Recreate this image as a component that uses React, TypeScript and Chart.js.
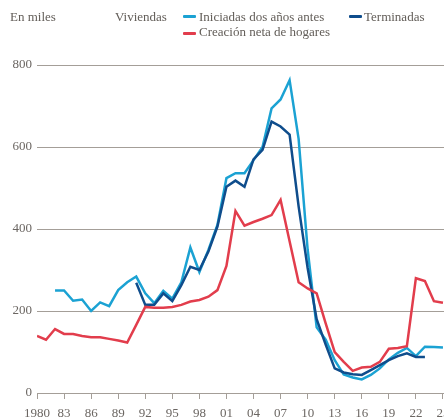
import React, { useEffect, useRef } from "react";
import { Chart, registerables } from "chart.js";

Chart.register(...registerables);

const years = [
  1980, 1981, 1982, 1983, 1984, 1985, 1986, 1987, 1988, 1989,
  1990, 1991, 1992, 1993, 1994, 1995, 1996, 1997, 1998, 1999,
  2000, 2001, 2002, 2003, 2004, 2005, 2006, 2007, 2008, 2009,
  2010, 2011, 2012, 2013, 2014, 2015, 2016, 2017, 2018, 2019,
  2020, 2021, 2022, 2023, 2024, 2025,
];

// Creación neta de hogares (miles)
const hogares = [
  139, 130, 156, 144, 144, 139, 136, 136, 132, 128,
  123, 166, 210, 208, 208, 210, 215, 223, 227, 235,
  251, 310, 444, 408, 417, 425, 434, 471, 370, 270,
  255, 243, 170, 100, 76, 54, 62, 64, 76, 108,
  110, 114, 280, 273, 224, 220,
];

// Viviendas iniciadas dos años antes (miles)
const iniciadas = [
  null, null, 250, 250, 225, 228, 200, 221, 212, 251,
  270, 284, 243, 219, 249, 230, 270, 355, 295, 349,
  410, 524, 536, 536, 568, 600, 694, 716, 763, 620,
  350, 160, 130, 80, 45, 38, 33, 44, 60, 82,
  98, 110, 90, 113, 112, 111,
];

// Viviendas terminadas (miles)
const terminadas = [
  null, null, null, null, null, null, null, null, null, null,
  null, 269, 215, 215, 243, 224, 263, 308, 300, 345,
  406, 503, 518, 503, 570, 593, 662, 650, 630, 455,
  305, 180, 118, 60, 50, 46, 44, 56, 68, 80,
  90, 97, 88, 88, null, null,
];

const xTickYears = [1980, 1983, 1986, 1989, 1992, 1995, 1998, 2001, 2004, 2007, 2010, 2013, 2016, 2019, 2022, 2025];
const yTickValues = [0, 200, 400, 600, 800];

const CYAN = "#1ba2d3";
const BLUE = "#0f4d8c";
const RED = "#e23d4c";
const GRID = "#a49e98";
const TEXT = "#6b6662";
const SERIF = "'Liberation Serif', 'DejaVu Serif', serif";

const mk = (vals: (number | null)[]) => years.map((x, i) => ({ x, y: vals[i] }));

export default function App() {
  const ref = useRef<HTMLCanvasElement>(null);

  useEffect(() => {
    const canvas = ref.current!;
    const font = { family: SERIF, size: 13 };
    const base = { borderWidth: 2.5, pointRadius: 0, pointHoverRadius: 0, tension: 0, fill: false, spanGaps: false };
    const chart = new Chart(canvas, {
      type: "line",
      data: {
        datasets: [
          { ...base, label: "Creación neta de hogares", data: mk(hogares), borderColor: RED, order: 0 },
          { ...base, label: "Terminadas", data: mk(terminadas), borderColor: BLUE, order: 1 },
          { ...base, label: "Iniciadas dos años antes", data: mk(iniciadas), borderColor: CYAN, order: 2 },
        ] as any,
      },
      options: {
        animation: false,
        responsive: false,
        layout: { padding: { top: 65, left: 0, right: 0, bottom: 0 } },
        plugins: { legend: { display: false }, tooltip: { enabled: false } },
        scales: {
          x: {
            type: "linear",
            min: 1980,
            max: 2027,
            afterBuildTicks: (s: any) => {
              s.ticks = xTickYears.map((value) => ({ value }));
            },
            afterFit: (s: any) => {
              s.height = 26;
            },
            ticks: {
              color: TEXT,
              font,
              padding: 7,
              maxRotation: 0,
              autoSkip: false,
              callback: (v: any) => {
                const n = Number(v);
                return n === 1980 ? "1980" : String(n % 100).padStart(2, "0");
              },
            },
            grid: { drawOnChartArea: false, drawTicks: true, tickLength: 6, color: GRID },
            border: { display: true, color: GRID },
          },
          y: {
            min: 0,
            max: 800,
            afterBuildTicks: (s: any) => {
              s.ticks = yTickValues.map((value) => ({ value }));
            },
            afterFit: (s: any) => {
              s.width = 37;
            },
            ticks: { color: TEXT, font, padding: 5 },
            grid: { drawTicks: false, color: GRID },
            border: { display: false },
          },
        },
      },
    });
    return () => chart.destroy();
  }, []);

  const txt: React.CSSProperties = {
    position: "absolute",
    fontFamily: SERIF,
    fontSize: 13,
    lineHeight: "15px",
    color: "#625d58",
    whiteSpace: "nowrap",
  };
  const sw = (left: number, top: number, color: string): React.CSSProperties => ({
    position: "absolute",
    left,
    top,
    width: 13,
    height: 3,
    borderRadius: 1,
    background: color,
  });

  return (
    <div style={{ position: "fixed", left: 0, top: 0, width: 444, height: 419, overflow: "hidden", background: "#fff" }}>
      <canvas ref={ref} width={461} height={419} style={{ display: "block" }} />
      <span style={{ ...txt, left: 10, top: 9 }}>En miles</span>
      <span style={{ ...txt, left: 115, top: 9 }}>Viviendas</span>
      <div style={sw(183, 15, CYAN)} />
      <span style={{ ...txt, left: 199, top: 9 }}>Iniciadas dos años antes</span>
      <div style={sw(349, 15, BLUE)} />
      <span style={{ ...txt, left: 364, top: 9 }}>Terminadas</span>
      <div style={sw(183, 32, RED)} />
      <span style={{ ...txt, left: 199, top: 24 }}>Creación neta de hogares</span>
    </div>
  );
}
